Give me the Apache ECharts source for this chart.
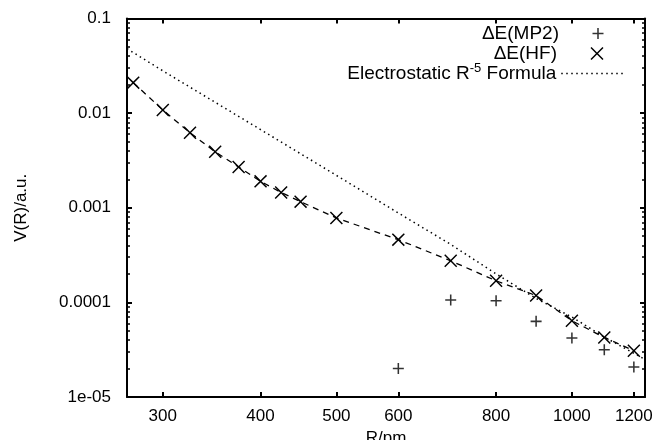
<!DOCTYPE html>
<html><head><meta charset="utf-8">
<script src="https://cdn.jsdelivr.net/npm/echarts@6/dist/echarts.min.js"></script>
<style>html,body{margin:0;padding:0;background:#fff}#c{width:652px;height:440px}</style>
</head><body><div id="c"></div>
<script>
const rHF = [275,300,325,350,375,400,425,450,500,600,700,800,900,1000,1100,1200];
const vHF = [0.021,0.0108,0.0062,0.0039,0.0027,0.0019,0.00145,0.00116,0.00078,0.00046,0.000275,0.000169,0.000118,0.000064,0.0000426,0.0000308];
const rMP2 = [600,700,800,900,1000,1100,1200];
const vMP2 = [0.000020,0.000106,0.000104,0.000063,0.000042,0.0000316,0.0000207];
const rES = [270,300,400,500,600,700,800,900,1000,1100,1200,1240];
const vES = [0.048,0.028,0.0067,0.0022,0.00088,0.00041,0.00020,0.00011,0.000070,0.000043,0.000029,0.000025];
const xTicks = [300,400,500,600,800,1000,1200];
const xTickLabels = ['300','400','500','600','800','1000','1200'];
const yTicks = [0.1,0.01,0.001,0.0001,0.00001];
const yTickLabels = ['0.1','0.01','0.001','0.0001','1e-05'];
const yMinor = [];
[0.00001,0.0001,0.001,0.01].forEach(function(d){for(let k=2;k<=9;k++){yMinor.push(+(d*k).toPrecision(3));}});

const FONT = 'Liberation Sans';
const PLUS = 'path://M4.3,0 H5.7 V4.3 H10 V5.7 H5.7 V10 H4.3 V5.7 H0 V4.3 H4.3 Z';
const CROSS = 'path://M0,0.8 L0.8,0 L5,4.2 L9.2,0 L10,0.8 L5.8,5 L10,9.2 L9.2,10 L5,5.8 L0.8,10 L0,9.2 L4.2,5 Z';

function near(a,b){return Math.abs(Math.log10(a)-Math.log10(b))<1e-6;}
const chart = echarts.init(document.getElementById('c'), null, {renderer:'canvas'});
const axisLine = {show:true, lineStyle:{color:'#000', width:2}};
function xAx(pos, showLabel){
  return {type:'log', logBase:10, min:270, max:1240, position:pos,
    axisLine: axisLine,
    axisTick:{show:true, inside:true, length:5, customValues:xTicks, lineStyle:{color:'#000',width:2}},
    axisLabel:{show:showLabel, customValues:xTicks, color:'#000', fontFamily:FONT, fontSize:17, margin:11,
      formatter:function(v){const i=xTicks.findIndex(function(t){return near(t,v);});return i>=0?xTickLabels[i]:'';}},
    splitLine:{show:false}, minorTick:{show:false}};
}
function yAx(pos, showLabel){
  return {type:'log', logBase:10, min:0.00001, max:0.1, position:pos,
    axisLine: axisLine,
    axisTick:{show:true, inside:true, length:5, customValues:yTicks, lineStyle:{color:'#000',width:2}},
    axisLabel:{show:showLabel, customValues:yTicks, color:'#000', fontFamily:FONT, fontSize:17, margin:16,
      formatter:function(v){const i=yTicks.findIndex(function(t){return near(t,v);});return i>=0?yTickLabels[i]:'';}},
    splitLine:{show:false}};
}
function yMinorAx(pos){
  return {type:'log', logBase:10, min:0.00001, max:0.1, position:pos,
    axisLine:{show:false},
    axisTick:{show:true, inside:true, length:3, customValues:yMinor, lineStyle:{color:'#000',width:1.5}},
    axisLabel:{show:false}, splitLine:{show:false}};
}
const xa = xAx('bottom', true);
xa.name = 'R/pm'; xa.nameLocation='middle'; xa.nameGap=32;
xa.nameTextStyle = {color:'#000', fontFamily:FONT, fontSize:17};
const ya = yAx('left', true);
ya.name = 'V(R)/a.u.'; ya.nameLocation='middle'; ya.nameGap=97; ya.nameRotate=90;
ya.nameTextStyle = {color:'#000', fontFamily:FONT, fontSize:17};

function legText(pad){
  return {color:'#000', fontFamily:FONT, fontSize:19, padding:[0,pad,0,0],
    rich:{a:{color:'#000',fontFamily:FONT,fontSize:19}, s:{color:'#000',fontFamily:FONT,fontSize:13,padding:[0,0,10,0]}}};
}
const legBase = {orient:'vertical', align:'right', itemGap:0, selectedMode:false};

chart.setOption({
  animation:false,
  backgroundColor:'#fff',
  grid:{left:127, right:7, top:18.5, bottom:43, containLabel:false, outerBoundsMode:'none'},
  xAxis:[xa, xAx('top', false)],
  yAxis:[ya, yAx('right', false), yMinorAx('left'), yMinorAx('right')],
  legend:[
    Object.assign({}, legBase, {right:43.5, top:19, itemWidth:11, itemHeight:11, textStyle:legText(28.5),
      data:[{name:'ΔE(MP2)', icon:PLUS}]}),
    Object.assign({}, legBase, {right:43.5, top:39, itemWidth:13, itemHeight:13, textStyle:legText(28.5),
      data:[{name:'ΔE(HF)', icon:CROSS}]}),
    Object.assign({}, legBase, {right:22, top:57, itemWidth:63, itemHeight:13, textStyle:legText(0),
      itemStyle:{color:'rgba(0,0,0,0)', borderWidth:0, opacity:0},
      lineStyle:{color:'#000', width:1.5, type:[1.5,3.5], opacity:1},
      data:[{name:'Electrostatic'}],
      formatter:function(){return '{a|Electrostatic R}{s|-5}{a| Formula}';}})
  ],
  series:[
    {name:'ΔE(MP2)', type:'scatter', symbol:PLUS, symbolSize:11, itemStyle:{color:'#000'},
      data:rMP2.map(function(r,i){return [r,vMP2[i]];})},
    {name:'ΔE(HF)', type:'line', symbol:CROSS, symbolSize:13, showSymbol:true, itemStyle:{color:'#000'},
      lineStyle:{color:'#000', width:1.3, type:[6,5]},
      data:rHF.map(function(r,i){return [r,vHF[i]];})},
    {name:'Electrostatic', type:'line', symbol:'none', itemStyle:{color:'#000'},
      lineStyle:{color:'#000', width:1.5, type:[1.5,3.5]},
      data:rES.map(function(r,i){return [r,vES[i]];})}
  ]
});
</script></body></html>
